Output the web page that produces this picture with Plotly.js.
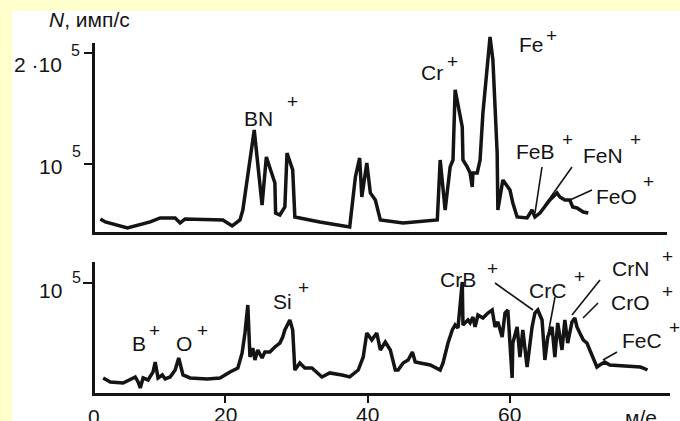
<!DOCTYPE html>
<html>
<head>
<meta charset="utf-8">
<script src="https://cdn.plot.ly/plotly-3.0.1.min.js"></script>
<style>
html,body{margin:0;padding:0;background:#FFFFCC;}
#chart{width:680px;height:421px;}
</style>
</head>
<body>
<div id="chart"></div>
<script>
// ---- data: mass spectra, m/e vs N (counts per second) ----
const mzTop = [2.5,3.2,6.3,9.5,10.9,13.0,13.7,14.4,19.7,21.0,22.1,22.5,24.1,25.2,25.8,27.0,27.1,27.7,28.4,28.7,29.5,29.8,33.3,37.5,38.3,38.9,39.2,39.9,40.4,41.1,41.8,45.0,49.8,50.2,50.9,51.6,52.0,52.3,53.3,53.4,54.0,54.4,54.7,54.8,55.4,55.8,56.2,56.8,57.2,57.6,57.9,58.2,58.3,59.0,60.0,60.4,61.0,62.4,63.1,63.5,64.2,64.9,65.6,66.6,67.0,67.7,68.4,68.8,69.4,70.3,71.0];
const nTop = [51200,48500,43100,48500,52100,52100,47600,51200,50300,44900,50300,59200,130900,63700,106700,83400,56500,54700,61900,110300,95100,53000,48500,44000,88800,105800,70900,101300,74500,68200,50300,47600,50300,104000,59200,97800,104000,166800,133600,104000,97800,92400,79800,92400,92400,104000,146100,184700,214200,193600,146100,110300,59200,86100,77100,65500,53000,52100,59200,53000,56500,61900,68200,74500,70900,68200,68200,61900,61000,57400,56500];

const mzBottom = [2.9,3.9,5.7,6.7,7.4,7.8,8.1,8.5,9.2,9.9,10.2,10.6,11.2,11.6,12.3,13.0,13.5,14.1,15.1,17.5,19.3,20.7,21.8,22.4,22.8,23.2,23.5,23.9,24.2,24.6,25.2,25.6,26.3,27.0,27.7,28.1,28.4,29.1,29.5,29.8,30.5,31.2,32.2,33.6,34.7,36.4,37.5,38.7,39.4,39.9,40.6,41.3,41.8,42.5,43.2,43.9,44.3,45.0,45.7,46.3,46.7,47.4,48.8,50.2,50.6,51.3,51.9,52.3,52.7,53.3,53.4,54.1,54.4,54.8,55.1,55.5,56.2,56.9,57.5,57.9,58.3,58.9,59.3,59.7,60.3,60.4,61.0,61.4,61.8,62.4,63.1,63.5,63.9,64.5,64.9,65.3,65.9,66.3,66.7,67.3,67.7,68.1,68.7,69.1,69.4,69.8,70.3,70.8,71.2,71.7,72.2,72.6,73.3,74.0,76.4,78.3,78.7,79.3];
const nBottom = [14900,11300,10400,14000,15800,11300,5900,14900,13100,20300,29200,14900,17600,14000,15800,22000,32800,17600,14900,14000,14900,20300,23800,37300,55200,80300,33700,41800,31000,40000,32800,38200,38200,42700,46200,51600,57900,66800,57900,22000,28300,23800,23800,15800,19400,17600,15800,22000,33700,55200,48900,55200,40000,47100,40000,22000,22000,28300,31000,38200,29200,28300,26500,22000,28300,46200,57900,62400,59700,100900,62400,66800,64200,69500,60600,71300,68600,73100,75800,60600,65100,51600,73100,75800,14900,46200,60600,33700,57900,24700,60600,73100,75800,66800,31000,51600,60600,33700,64200,40000,66800,46200,65100,68600,60600,55200,48900,46200,40000,33700,24700,26500,29200,26500,25600,24700,23800,22000];

const xTickVals = [20, 40, 60];
const xTickText = ['20', '40', '60'];
const yTickValsTop = [100000, 200000];
const yTickValsBottom = [100000];

// ---- layout helpers (pixel -> paper) ----
const W = 680, H = 421;
const PX = p => p / W;
const PY = p => 1 - p / H;
const FONT = '"Liberation Sans", Arial, sans-serif';
const INK = '#141414';

const lineStyle = {color: INK, width: 3.5};

const traces = [
  {x: mzTop, y: nTop, xaxis: 'x2', yaxis: 'y2', mode: 'lines', line: lineStyle, hoverinfo: 'skip'},
  {x: mzBottom, y: nBottom, xaxis: 'x', yaxis: 'y', mode: 'lines', line: lineStyle, hoverinfo: 'skip'}
];

const LBL = 21, PLUS = 19, SUP = 16;

function lab(text, cx, cy, size) {
  return {text: text, xref: 'paper', yref: 'paper', x: PX(cx), y: PY(cy),
          xanchor: 'center', yanchor: 'middle', showarrow: false,
          font: {family: FONT, size: size, color: INK}};
}
function labR(text, rx, cy, size) {
  const a = lab(text, rx, cy, size); a.xanchor = 'right'; return a;
}

// x tick labels placed at their data positions, partly cut by the bottom edge as in the source
const xTickLabels = xTickVals.map((v, i) => ({
  text: xTickText[i], xref: 'x', yref: 'paper', x: v, y: PY(414),
  xanchor: 'center', yanchor: 'middle', showarrow: false,
  font: {family: FONT, size: LBL, color: INK}
}));

const annotations = [
  // axis title
  {text: '<i>N</i>, имп/с', xref: 'paper', yref: 'paper', x: PX(47), y: PY(19),
   xanchor: 'left', yanchor: 'middle', showarrow: false, font: {family: FONT, size: 21, color: INK}},
  // y tick labels
  labR('2 ·10', 64, 65, LBL), lab('5', 75, 51, SUP),
  labR('10', 64, 166, LBL), lab('5', 76, 151, SUP),
  labR('10', 64, 290, LBL), lab('5', 76, 277, SUP),
  // x origin label and axis unit
  lab('0', 94, 416, LBL), lab('м/е', 641, 417, LBL),
  // peak labels, top
  lab('BN', 258, 118, LBL), lab('+', 292, 101, PLUS),
  lab('Cr', 432, 72, LBL), lab('+', 452, 61, PLUS),
  lab('Fe', 531, 44, LBL), lab('+', 551, 35, PLUS),
  lab('FeB', 535, 151, LBL), lab('+', 567, 139, PLUS),
  lab('FeN', 603, 155, LBL), lab('+', 635, 139, PLUS),
  lab('FeO', 616, 196, LBL), lab('+', 648, 181, PLUS),
  // peak labels, bottom
  lab('B', 139, 343, LBL), lab('+', 154, 330, PLUS),
  lab('O', 184, 343, LBL), lab('+', 202, 330, PLUS),
  lab('Si', 282, 301, LBL), lab('+', 303, 287, PLUS),
  lab('CrB', 458, 279, LBL), lab('+', 492, 268, PLUS),
  lab('CrC', 547, 290, LBL), lab('+', 579, 276, PLUS),
  lab('CrN', 630, 268, LBL), lab('+', 667, 256, PLUS),
  lab('CrO', 630, 302, LBL), lab('+', 667, 291, PLUS),
  lab('FeC', 642, 340, LBL), lab('+', 674, 327, PLUS)
].concat(xTickLabels);

function seg(x0, y0, x1, y1, w) {
  return {type: 'line', xref: 'paper', yref: 'paper', x0: PX(x0), y0: PY(y0), x1: PX(x1), y1: PY(y1),
          line: {color: INK, width: w || 1.6}};
}

const shapes = [
  {type: 'rect', xref: 'paper', yref: 'paper', x0: PX(12), x1: 1, y0: 0, y1: PY(11),
   fillcolor: '#FFFFFF', line: {width: 0}, layer: 'below'},
  // top panel y-axis line
  seg(93.5, 235, 93.5, 43, 3),
  // leader lines
  seg(542, 167, 535, 213), seg(572, 167, 545, 205), seg(592, 190, 570, 200),
  seg(495, 283, 533, 310), seg(555, 297, 547, 340), seg(600, 280, 572, 315),
  seg(598, 303, 583, 318), seg(617, 352, 603, 360)
];

const layout = {
  width: W, height: H,
  margin: {l: 0, r: 0, t: 0, b: 0},
  paper_bgcolor: '#FFFFCC',
  plot_bgcolor: 'rgba(0,0,0,0)',
  showlegend: false,
  font: {family: FONT, color: INK},
  xaxis: {domain: [PX(95), PX(670)], range: [1.75, 82.46], anchor: 'y',
          showline: true, linewidth: 3, linecolor: INK,
          ticks: 'outside', ticklen: 7, tickwidth: 2, tickcolor: INK,
          tickvals: xTickVals, showticklabels: false,
          showgrid: false, zeroline: false},
  xaxis2: {domain: [PX(95), PX(667)], range: [1.75, 82.04], anchor: 'y2',
           showline: true, linewidth: 3, linecolor: INK, ticks: '', showticklabels: false,
           showgrid: false, zeroline: false},
  yaxis: {domain: [PY(393), PY(262)], range: [1430, 118800], anchor: 'x',
          showline: true, linewidth: 3, linecolor: INK,
          ticks: 'outside', ticklen: 9, tickwidth: 2, tickcolor: INK,
          tickvals: yTickValsBottom, showticklabels: false, showgrid: false, zeroline: false},
  yaxis2: {domain: [PY(232), PY(35)], range: [39500, 216000], anchor: 'x2',
           showline: false, ticks: 'outside', ticklen: 10, tickwidth: 2, tickcolor: INK,
           tickvals: yTickValsTop, showticklabels: false, showgrid: false, zeroline: false},
  annotations: annotations,
  shapes: shapes
};

Plotly.newPlot('chart', traces, layout, {staticPlot: true, displayModeBar: false});
</script>
</body>
</html>
